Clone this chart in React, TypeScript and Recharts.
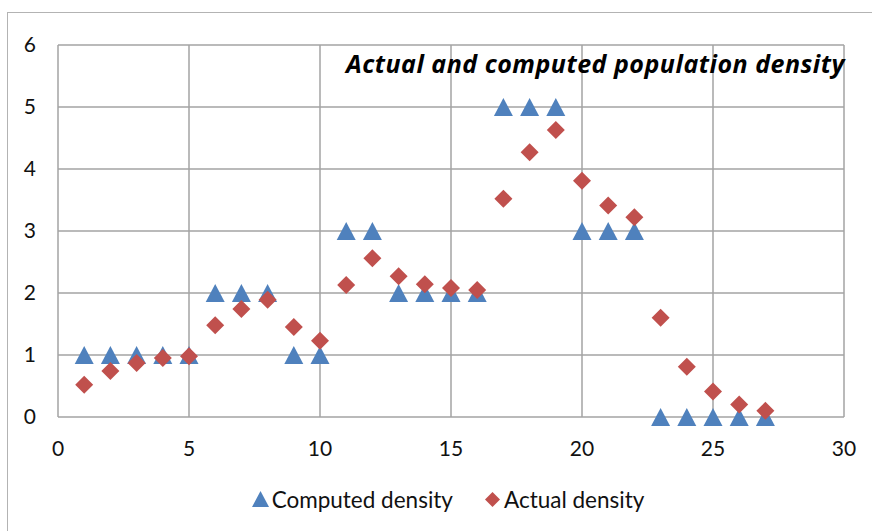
import { ScatterChart, Scatter, XAxis, YAxis, CartesianGrid, Legend } from 'recharts';

const xValues = [1, 2, 3, 4, 5, 6, 7, 8, 9, 10, 11, 12, 13, 14, 15, 16, 17, 18, 19, 20, 21, 22, 23, 24, 25, 26, 27];
const computedDensity = [1, 1, 1, 1, 1, 2, 2, 2, 1, 1, 3, 3, 2, 2, 2, 2, 5, 5, 5, 3, 3, 3, 0, 0, 0, 0, 0];
const actualDensity = [
	0.52, 0.74, 0.87, 0.95, 0.98, 1.48, 1.74, 1.89, 1.45, 1.23, 2.13, 2.56, 2.27, 2.14, 2.08, 2.05, 3.52, 4.27,
	4.63, 3.81, 3.41, 3.22, 1.6, 0.81, 0.41, 0.2, 0.1,
];
const xTicks = [0, 5, 10, 15, 20, 25, 30];
const yTicks = [0, 1, 2, 3, 4, 5, 6];

const BLUE = '#4f81bd';
const RED = '#c0504d';
const GRID = '#a3a3a3';
const FONT = 'Lato, "Open Sans", sans-serif';

const computedData = xValues.map((x, i) => ({ x, y: computedDensity[i] }));
const actualData = xValues.map((x, i) => ({ x, y: actualDensity[i] }));

const Triangle = ({ cx, cy }: any) => (
	<polygon points={`${cx},${cy - 9} ${cx + 9.5},${cy + 9} ${cx - 9.5},${cy + 9}`} fill={BLUE} />
);

const Diamond = ({ cx, cy }: any) => (
	<polygon points={`${cx},${cy - 9} ${cx + 9},${cy} ${cx},${cy + 9} ${cx - 9},${cy}`} fill={RED} />
);

const renderLegend = () => (
	<div style={{ display: 'flex', justifyContent: 'center', alignItems: 'center', height: 30, fontFamily: FONT, fontSize: 22.5, color: '#111', paddingLeft: 52 }}>
		<svg width={17} height={16} style={{ marginRight: 3 }}>
			<polygon points='8.5,0 17,16 0,16' fill={BLUE} />
		</svg>
		<span style={{ marginRight: 32 }}>Computed density</span>
		<svg width={15} height={15} style={{ marginRight: 4 }}>
			<polygon points='7.5,0 15,7.5 7.5,15 0,7.5' fill={RED} />
		</svg>
		<span>Actual density</span>
	</div>
);

export default function App() {
	return (
		<div style={{ position: 'absolute', left: 0, top: 0, width: 872, height: 531, background: '#fff', overflow: 'hidden' }}>
			<div
				style={{
					position: 'absolute',
					left: 7,
					top: 12,
					width: 900,
					height: 600,
					borderLeft: '1.5px solid #b3b3b3',
					borderTop: '1.5px solid #b3b3b3',
				}}
			/>
			<div style={{ position: 'absolute', left: 0, top: 0 }}>
				<ScatterChart width={872} height={531} margin={{ top: 45, right: 28, left: 0, bottom: 44 }}>
					<CartesianGrid stroke={GRID} strokeWidth={1.5} />
					<XAxis
						type='number'
						dataKey='x'
						domain={[0, 30]}
						ticks={xTicks}
						axisLine={false}
						tickLine={false}
						tickSize={0}
						tickMargin={24}
						height={40}
						tick={{ fill: '#111', fontSize: 21, fontFamily: FONT }}
					/>
					<YAxis
						type='number'
						dataKey='y'
						domain={[0, 6]}
						ticks={yTicks}
						axisLine={false}
						tickLine={false}
						tickSize={0}
						tickMargin={22}
						width={58}
						tick={{ fill: '#111', fontSize: 21, fontFamily: FONT }}
					/>
					<Legend verticalAlign='bottom' wrapperStyle={{ bottom: 17 }} content={renderLegend} />
					<Scatter name='Computed density' data={computedData} shape={Triangle} isAnimationActive={false} />
					<Scatter name='Actual density' data={actualData} shape={Diamond} isAnimationActive={false} />
				</ScatterChart>
			</div>
			<div
				style={{
					position: 'absolute',
					right: 27,
					top: 46,
					fontFamily: '"Open Sans", sans-serif',
					fontSize: 25,
					fontWeight: 'bold',
					fontStyle: 'italic',
					letterSpacing: 0.5,
					color: '#000',
					whiteSpace: 'nowrap',
				}}
			>
				Actual and computed population density
			</div>
		</div>
	);
}
